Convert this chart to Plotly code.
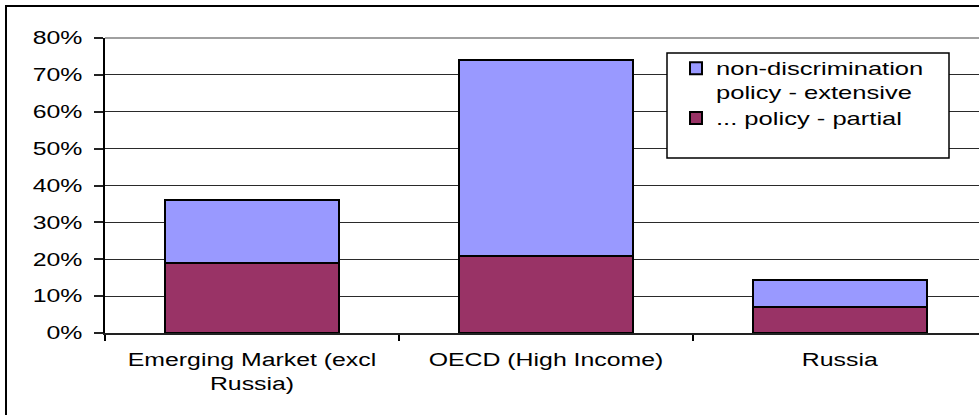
import plotly.graph_objects as go

# Survey share of firms by region with a non-discrimination policy
categories = ["Emerging Market (excl<br>Russia)", "OECD (High Income)", "Russia"]
partial = [0.19, 0.21, 0.07]
extensive = [0.17, 0.53, 0.073]
y_ticks = [0.0, 0.1, 0.2, 0.3, 0.4, 0.5, 0.6, 0.7, 0.8]

W, H = 979, 415
ML, MR, MT, MB = 105, 0, 38, 82
PW, PH = W - ML - MR, H - MT - MB

def px_x(p):
    return (p - ML) / PW

def px_y(p):
    return (H - MB - p) / PH

FONT = "Liberation Sans, Arial, sans-serif"
FS = 18

fig = go.Figure()
fig.add_bar(
    x=categories, y=partial, name="... policy - partial",
    marker=dict(color="#993366", line=dict(color="#000000", width=2)),
)
fig.add_bar(
    x=categories, y=extensive, name="non-discrimination<br>policy - extensive",
    marker=dict(color="#9999FF", line=dict(color="#000000", width=2)),
)

shapes = [
    # plot-area top edge
    dict(type="line", xref="paper", yref="paper", x0=0, x1=1.02, y0=1, y1=1,
         line=dict(color="#808080", width=1.5), layer="above"),
    # legend box
    dict(type="rect", xref="paper", yref="paper",
         x0=px_x(667), x1=px_x(949), y0=px_y(158), y1=px_y(53),
         fillcolor="white", line=dict(color="black", width=1.5), layer="above"),
    # chart-area border
    dict(type="rect", xref="paper", yref="paper",
         x0=px_x(6), x1=px_x(995), y0=px_y(430), y1=px_y(6),
         line=dict(color="black", width=2)),
]

fig.update_layout(
    width=W, height=H,
    margin=dict(l=ML, r=MR, t=MT, b=MB),
    paper_bgcolor="white", plot_bgcolor="white",
    barmode="stack", bargap=0.41,
    font=dict(family=FONT, size=FS, color="black"),
    showlegend=True,
    legend=dict(
        x=px_x(676), y=px_y(50), xanchor="left", yanchor="top",
        bgcolor="rgba(0,0,0,0)", borderwidth=0, valign="top",
        traceorder="reversed", font=dict(family=FONT, size=FS),
        itemwidth=30, tracegroupgap=0,
    ),
    shapes=shapes,
)
fig.update_xaxes(
    range=[-0.5, (W - ML) / 294 - 0.5],
    tickson="boundaries", ticks="outside", ticklen=6, tickcolor="black", tickwidth=1.5,
    showline=True, linecolor="#222222", linewidth=1.5,
    showgrid=False, ticklabelstandoff=10,
    tickfont=dict(family=FONT, size=FS),
)
fig.update_yaxes(
    range=[0, 0.8], tickvals=y_ticks, tickformat=".0%",
    ticks="outside", ticklen=9, tickcolor="#222222", tickwidth=1.5,
    showline=True, linecolor="black", linewidth=2,
    showgrid=True, gridcolor="#2a2a2a", gridwidth=1.2,
    zeroline=False, ticklabelstandoff=8,
    tickfont=dict(family=FONT, size=FS),
)

# Widen the label glyphs horizontally, keeping each label on its anchor point,
# and let the widened legend text run past the legend's own clip box.
widen_text = """
function widen(sel, k) {
  document.querySelectorAll(sel).forEach(function (t) {
    var bb = t.getBBox();
    var a = t.getAttribute('text-anchor') || 'start';
    var cx = a === 'end' ? bb.x + bb.width : (a === 'middle' ? bb.x + bb.width / 2 : bb.x);
    var tr = t.getAttribute('transform') || '';
    t.setAttribute('transform', tr + ' translate(' + cx + ',0) scale(' + k + ',1) translate(' + (-cx) + ',0)');
  });
}
widen('.xtick text', 1.38);
widen('.ytick text', 1.38);
widen('.legendtext', 1.42);
document.querySelectorAll('.legend .scrollbox, .legend').forEach(function (g) {
  g.removeAttribute('clip-path');
});
"""

fig.write_html("out.html", post_script=widen_text)
